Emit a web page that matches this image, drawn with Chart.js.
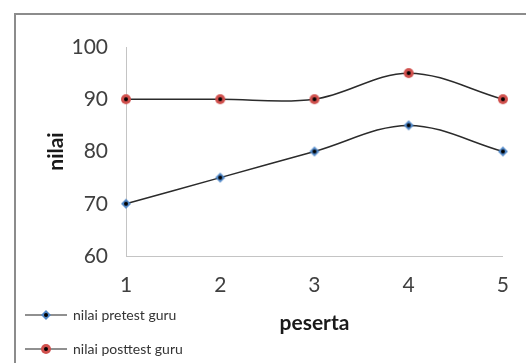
<!DOCTYPE html>
<html>
<head>
<meta charset="utf-8">
<script src="https://cdn.jsdelivr.net/npm/chart.js@4"></script>
<style>
  body { margin: 0; background: #fff; }
  #wrap { position: relative; width: 526px; height: 363px; overflow: hidden; }
  #frame {
    position: absolute; left: 14px; top: 13px; width: 600px; height: 400px;
    border-left: 2px solid #8c8c8c; border-top: 2px solid #8c8c8c;
  }
  canvas { position: absolute; left: 0; top: 0; }
</style>
</head>
<body>
<div id="wrap">
  <div id="frame"></div>
  <canvas id="chart" width="526" height="363"></canvas>
</div>
<script>
/* global Chart */
const participants = ["1", "2", "3", "4", "5"];
const pretest = [70, 75, 80, 85, 80];
const posttest = [90, 90, 90, 95, 90];
const seriesNames = ["nilai pretest guru", "nilai posttest guru"];
const yTicks = [60, 70, 80, 90, 100];

const FONT = "Lato, 'DejaVu Sans', sans-serif";

// marker: coloured shape with a small black dot in the middle
function makeMarker(shape, colour) {
  const c = document.createElement("canvas");
  c.width = 12;
  c.height = 12;
  const g = c.getContext("2d");
  g.fillStyle = colour;
  g.beginPath();
  if (shape === "diamond") {
    g.moveTo(6, 1);
    g.lineTo(11, 6);
    g.lineTo(6, 11);
    g.lineTo(1, 6);
    g.closePath();
  } else {
    g.arc(6, 6, 5, 0, Math.PI * 2);
  }
  g.fill();
  g.fillStyle = "#000";
  g.beginPath();
  g.arc(6, 6, 2, 0, Math.PI * 2);
  g.fill();
  return c;
}

const preMarker = makeMarker("diamond", "#4f86c6");
const postMarker = makeMarker("circle", "#d0504d");

// legend drawn bottom-left: line with marker, then the name
const legendPlugin = {
  id: "sideLegend",
  afterDraw(chart) {
    const ctx = chart.ctx;
    const rows = [
      { y: chart.height - 48, marker: preMarker, text: seriesNames[0] },
      { y: chart.height - 14, marker: postMarker, text: seriesNames[1] },
    ];
    ctx.save();
    rows.forEach((r) => {
      ctx.strokeStyle = "#222";
      ctx.lineWidth = 1.2;
      ctx.beginPath();
      ctx.moveTo(25, r.y);
      ctx.lineTo(67, r.y);
      ctx.stroke();
      ctx.drawImage(r.marker, 40, r.y - 6);
      ctx.fillStyle = "#333";
      ctx.font = "14px " + FONT;
      ctx.textBaseline = "middle";
      ctx.fillText(r.text, 73, r.y);
    });
    ctx.restore();
  },
};

const chartConfig = {
  type: "line",
  data: {
    labels: participants,
    datasets: [
      {
        label: seriesNames[0],
        data: pretest,
        borderColor: "#2b2b2b",
        borderWidth: 1.5,
        tension: 0.35,
        pointStyle: preMarker,
      },
      {
        label: seriesNames[1],
        data: posttest,
        borderColor: "#2b2b2b",
        borderWidth: 1.5,
        tension: 0.35,
        pointStyle: postMarker,
      },
    ],
  },
  options: {
    responsive: false,
    animation: false,
    layout: {
      padding: { left: 0, right: 15, top: 47, bottom: 0 },
    },
    scales: {
      x: {
        grid: { display: false, drawTicks: false },
        border: { display: true, color: "#c4c4c4", width: 1 },
        ticks: {
          color: "#404040",
          padding: 17,
          maxRotation: 0,
          font: { family: FONT, size: 21 },
        },
        title: {
          display: true,
          text: "peserta",
          color: "#1a1a1a",
          padding: { top: 0, bottom: 27 },
          font: { family: FONT, size: 21, weight: "bold" },
        },
        afterFit(scale) {
          scale.height = 107;
        },
      },
      y: {
        min: 60,
        max: 100,
        afterBuildTicks(scale) {
          scale.ticks = yTicks.map((v) => ({ value: v }));
        },
        grid: { display: false, drawTicks: false },
        border: { display: true, color: "#c4c4c4", width: 1 },
        ticks: {
          color: "#404040",
          padding: 18,
          font: { family: FONT, size: 21 },
        },
        title: {
          display: true,
          text: "nilai",
          color: "#1a1a1a",
          padding: { top: 44, bottom: 0 },
          font: { family: FONT, size: 21, weight: "bold" },
        },
        afterFit(scale) {
          scale.width = 126;
        },
      },
    },
    plugins: {
      legend: { display: false },
      tooltip: { enabled: false },
    },
  },
  plugins: [legendPlugin],
};

window.nilaiChart = new Chart(document.getElementById("chart"), chartConfig);
</script>
</body>
</html>
